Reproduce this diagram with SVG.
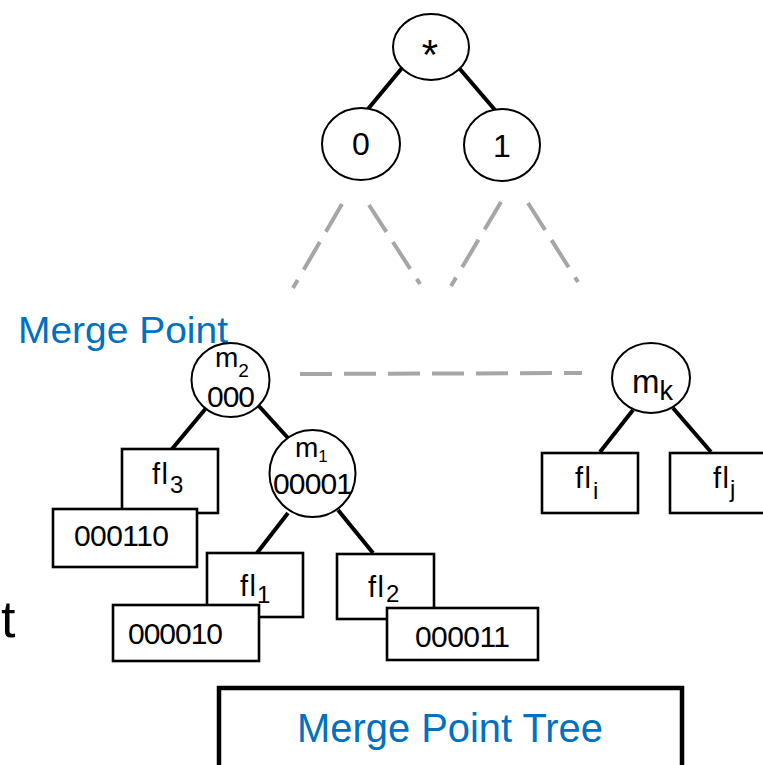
<svg xmlns="http://www.w3.org/2000/svg" width="763" height="765" viewBox="0 0 763 765">
<style>
  .node { fill: #fff; stroke: #000; stroke-width: 2; }
  .box { fill: #fff; stroke: #000; stroke-width: 2.6; }
  .edge { stroke: #000; stroke-width: 4; fill: none; }
  .dash { stroke: #a6a6a6; stroke-width: 4; stroke-dasharray: 32 12; fill: none; }
  text { font-family: "Liberation Sans", Arial, sans-serif; fill: #000; }
  .lbl { font-size: 30px; }
  .fl { font-size: 29px; letter-spacing: 1.5px; }
  .sub { font-size: 24px; }
  .blue { fill: #0070C0; }
</style>
<rect width="763" height="765" fill="#fff"/>
<g id="connectors">
  <line class="edge" x1="402" y1="68" x2="368" y2="109"/>
  <line class="edge" x1="459" y1="68" x2="495" y2="110"/>
  <line class="dash" x1="342" y1="204" x2="293" y2="288"/>
  <line class="dash" x1="369" y1="205" x2="420" y2="284"/>
  <line class="dash" x1="501" y1="202" x2="451" y2="286"/>
  <line class="dash" x1="528" y1="203" x2="578" y2="282"/>
  <line class="dash" x1="300" y1="374" x2="582" y2="373"/>
  <line class="edge" x1="207" y1="407" x2="172" y2="449"/>
  <line class="edge" x1="258" y1="405" x2="288" y2="438"/>
  <line class="edge" x1="288" y1="513" x2="257" y2="553"/>
  <line class="edge" x1="338" y1="510" x2="373" y2="553"/>
  <line class="edge" x1="633" y1="410" x2="600" y2="452"/>
  <line class="edge" x1="673" y1="408" x2="711" y2="452"/>
</g>
<g id="root">
  <ellipse class="node" cx="431" cy="47" rx="38" ry="33"/>
  <text x="430" y="69" style="font-size:42px" text-anchor="middle">*</text>
</g>
<g id="n0">
  <ellipse class="node" cx="361" cy="144" rx="39" ry="36"/>
  <text class="lbl" x="361" y="155" style="font-size:32px" text-anchor="middle">0</text>
</g>
<g id="n1">
  <ellipse class="node" cx="502" cy="145" rx="38" ry="36"/>
  <text class="lbl" x="502" y="157" style="font-size:32px" text-anchor="middle">1</text>
</g>
<g id="merge-point-label">
  <text class="blue" x="18" y="343" style="font-size:37px" textLength="210" lengthAdjust="spacingAndGlyphs">Merge Point</text>
</g>
<g id="m2">
  <ellipse class="node" cx="230.5" cy="380" rx="39" ry="37"/>
  <text class="lbl" x="215" y="367" style="font-size:28px">m<tspan style="font-size:19px" dy="10">2</tspan></text>
  <text class="lbl" x="231" y="407" text-anchor="middle" textLength="48">000</text>
</g>
<g id="m1">
  <ellipse class="node" cx="312.5" cy="473.5" rx="43" ry="43.5"/>
  <text class="lbl" x="295" y="457" style="font-size:28px">m<tspan style="font-size:17px" dy="5">1</tspan></text>
  <text class="lbl" x="313" y="494" text-anchor="middle" textLength="80">00001</text>
</g>
<g id="mk">
  <ellipse class="node" cx="651" cy="378" rx="39" ry="35"/>
  <text class="lbl" x="632" y="393" style="font-size:33px">m<tspan style="font-size:27px" dy="7">k</tspan></text>
</g>
<g id="fl3">
  <rect class="box" x="122" y="449" width="96" height="64"/>
  <text class="fl" x="152" y="484">fl</text>
  <text class="sub" x="170" y="493">3</text>
</g>
<g id="v000110">
  <rect class="box" x="53" y="509" width="144" height="58"/>
  <text class="lbl" x="74" y="546" textLength="95">000110</text>
</g>
<g id="fl1">
  <rect class="box" x="207" y="553" width="96" height="64"/>
  <text class="fl" x="240" y="596">fl</text>
  <text class="sub" x="257" y="603">1</text>
</g>
<g id="v000010">
  <rect class="box" x="113" y="605" width="146" height="56"/>
  <text class="lbl" x="128" y="644" textLength="95">000010</text>
</g>
<g id="fl2">
  <rect class="box" x="337" y="554" width="97" height="65"/>
  <text class="fl" x="368" y="597">fl</text>
  <text class="sub" x="386" y="602">2</text>
</g>
<g id="v000011">
  <rect class="box" x="387" y="608" width="151" height="52"/>
  <text class="lbl" x="415" y="647" textLength="95">000011</text>
</g>
<g id="fli">
  <rect class="box" x="542" y="453" width="96" height="60"/>
  <text class="fl" x="575" y="488">fl</text>
  <text class="sub" x="593" y="499">i</text>
</g>
<g id="flj">
  <rect class="box" x="670" y="453" width="96" height="60"/>
  <text class="fl" x="713" y="488">fl</text>
  <text class="sub" x="730" y="497">j</text>
</g>
<g id="t-fragment">
  <text x="1" y="637" style="font-size:52px">t</text>
</g>
<g id="title">
  <rect x="219" y="688" width="463" height="82" fill="#fff" stroke="#000" stroke-width="4.5"/>
  <text class="blue" x="297" y="742" style="font-size:40px" textLength="306" lengthAdjust="spacingAndGlyphs">Merge Point Tree</text>
</g>
</svg>
